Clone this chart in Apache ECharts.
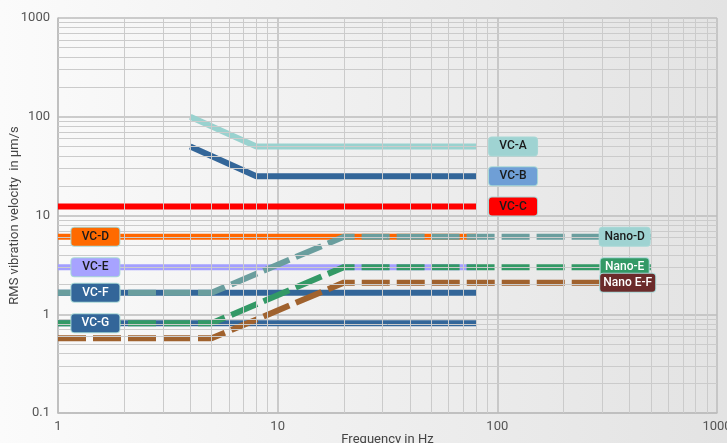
<!DOCTYPE html>
<html>
<head>
<meta charset="utf-8">
<script src="https://cdn.jsdelivr.net/npm/echarts@6/dist/echarts.min.js"></script>
<style>
  html, body { margin: 0; padding: 0; }
  #chart { width: 727px; height: 443px; }
</style>
</head>
<body>
<div id="chart"></div>
<script>
// vibration criteria curves (VC-A .. VC-G, Nano-D .. Nano E-F), log-log

const vcSlopeX = [4, 8, 80];
const vcA = [100, 50, 50];
const vcB = [50, 25, 25];

const vcFlatX = [1, 80];
const vcC = [12.3, 12.3];
const vcD = [6.1, 6.1];
const vcE = [3.0, 3.0];
const vcF = [1.65, 1.65];
const vcG = [0.81, 0.81];

const nanoX = [1, 5, 20, 500];
const nanoD = [1.65, 1.65, 6.1, 6.1];
const nanoE = [0.81, 0.81, 3.0, 3.0];
const nanoEF = [0.57, 0.57, 2.09, 2.09];

const xTicks = [1, 10, 100, 1000];
const yTicks = [0.1, 1, 10, 100, 1000];

// where the boxed names sit along x
const leftLabelX = 1.48;
const nanoLabelX = 380;

const zip = (xs, ys) => xs.map((x, i) => [x, ys[i]]);

// minor grid values 2..9 per decade
function minors(from, to) {
    const out = [];
    for (let d = from; d < to; d *= 10) {
        for (let k = 2; k <= 9; k++) out.push(+(k * d).toPrecision(3));
    }
    return out;
}

const boxFont = 'Roboto, sans-serif';

function box(bg, fg, w) {
    return {
        show: true,
        color: fg,
        backgroundColor: bg,
        borderColor: '#a8d8d6',
        borderWidth: 1,
        borderRadius: 3,
        padding: [3, 0, 2, 0],
        width: w || 48,
        align: 'center',
        fontSize: 12,
        fontWeight: 500,
        fontFamily: boxFont,
        lineHeight: 13
    };
}

function tag(name, coord, bg, fg, dx, w) {
    const lab = box(bg, fg, w);
    lab.position = 'inside';
    lab.formatter = name;
    if (dx) lab.offset = [dx, 0];
    return {
        symbol: 'circle',
        symbolSize: 0,
        silent: true,
        label: lab,
        data: [{ coord: coord }]
    };
}

function line(name, data, color, dashed, z, mark) {
    return {
        name: name,
        type: 'line',
        data: data,
        symbol: 'none',
        silent: true,
        z: z,
        lineStyle: {
            color: color,
            width: 6,
            type: dashed ? [28, 7] : 'solid',
            cap: 'butt'
        },
        markPoint: mark
    };
}

const axisFont = '"Liberation Sans Narrow", Roboto, sans-serif';

const option = {
    backgroundColor: {
        type: 'linear', x: 0, y: 0, x2: 1, y2: 0,
        colorStops: [
            { offset: 0, color: '#fbfbfb' },
            { offset: 1, color: '#e3e3e3' }
        ]
    },
    animation: false,
    grid: { left: 58, right: 10, top: 18, bottom: 30, outerBoundsMode: 'none', containLabel: false },
    xAxis: {
        type: 'log',
        logBase: 10,
        min: 1,
        max: 1000,
        name: 'Frequency in Hz',
        nameLocation: 'middle',
        nameMoveOverlap: false,
        nameGap: 20,
        nameTextStyle: { color: '#444', fontSize: 13, fontFamily: 'Roboto, sans-serif' },
        axisLine: { show: true, lineStyle: { color: '#bdbdbd', width: 1.5 } },
        axisTick: { show: false },
        axisLabel: {
            color: '#555', fontSize: 13, margin: 7,
            fontFamily: axisFont,
            formatter: v => xTicks.includes(+v.toPrecision(3)) ? String(+v.toPrecision(3)) : ''
        },
        splitLine: { show: true, lineStyle: { color: '#bdbdbd', width: 1.5 } }
    },
    yAxis: {
        type: 'log',
        logBase: 10,
        min: 0.1,
        max: 1000,
        name: 'RMS vibration velocity  in µm/s',
        nameLocation: 'middle',
        nameMoveOverlap: false,
        nameGap: 37,
        nameTextStyle: { color: '#444', fontSize: 13, fontFamily: 'Roboto, sans-serif' },
        axisLine: { show: true, lineStyle: { color: '#bdbdbd', width: 1.5 } },
        axisTick: { show: false },
        axisLabel: {
            color: '#555', fontSize: 13, margin: 8,
            fontFamily: axisFont,
            formatter: v => {
                const r = +v.toPrecision(3);
                return yTicks.includes(r) ? String(r) : '';
            }
        },
        splitLine: { show: true, lineStyle: { color: '#bdbdbd', width: 1.5 } }
    },
    series: [
        {
            name: 'minor grid',
            type: 'line',
            data: [],
            z: 1,
            silent: true,
            markLine: {
                silent: true,
                symbol: 'none',
                label: { show: false },
                lineStyle: { color: '#cbcbcb', width: 1, type: 'solid' },
                data: minors(1, 1000).map(v => ({ xAxis: v }))
                    .concat(minors(0.1, 1000).map(v => ({ yAxis: v })))
            }
        },
        line('VC-A', zip(vcSlopeX, vcA), '#99d2cf', false, 3,
            tag('VC-A', [vcSlopeX[2], vcA[2]], '#9fd3d2', '#1a1a1a', 37)),
        line('VC-B', zip(vcSlopeX, vcB), '#336699', false, 3,
            tag('VC-B', [vcSlopeX[2], vcB[2]], '#6f9fd6', '#1a1a1a', 37)),
        line('VC-C', zip(vcFlatX, vcC), '#ff0000', false, 3,
            tag('VC-C', [vcFlatX[1], vcC[1]], '#ff0000', '#1a1a1a', 37)),
        line('VC-D', zip(vcFlatX, vcD), '#ff6600', false, 3,
            tag('VC-D', [leftLabelX, vcD[0]], '#ff6a00', '#1a1a1a')),
        line('VC-E', zip(vcFlatX, vcE), '#a39fff', false, 3,
            tag('VC-E', [leftLabelX, vcE[0]], '#a7a3ff', '#1a1a1a')),
        line('VC-F', zip(vcFlatX, vcF), '#336699', false, 3,
            tag('VC-F', [leftLabelX, vcF[0]], '#336699', '#ffffff')),
        line('VC-G', zip(vcFlatX, vcG), '#336699', false, 3,
            tag('VC-G', [leftLabelX, vcG[0]], '#336699', '#ffffff')),
        line('Nano-D', zip(nanoX, nanoD), '#6a9e9e', true, 4,
            tag('Nano-D', [nanoLabelX, nanoD[3]], '#9fd3d2', '#1a1a1a', 0, 50)),
        line('Nano-E', zip(nanoX, nanoE), '#339966', true, 4,
            tag('Nano-E', [nanoLabelX, nanoE[3]], '#339966', '#ffffff', 0, 48)),
        line('Nano E-F', zip(nanoX, nanoEF), '#a0622e', true, 4,
            tag('Nano E-F', [nanoLabelX, nanoEF[3]], '#6b2b2b', '#ffffff', 3, 55))
    ]
};

const chart = echarts.init(document.getElementById('chart'), null, { renderer: 'canvas' });
chart.setOption(option);
</script>
</body>
</html>
